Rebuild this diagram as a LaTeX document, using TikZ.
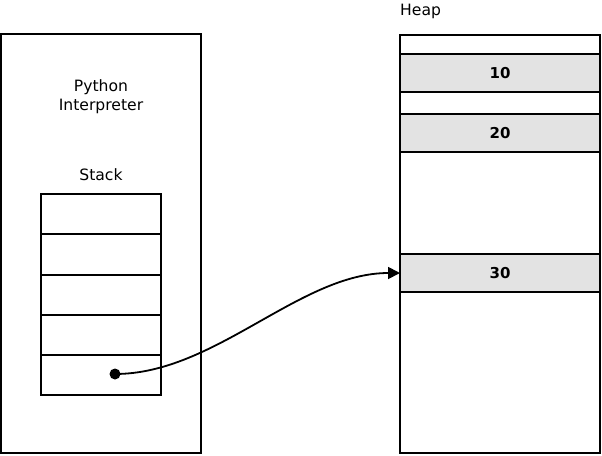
\documentclass[tikz,border=0pt]{standalone}
\usepackage{fontspec}
\setmainfont{DejaVu Sans}
\usetikzlibrary{arrows.meta}
\definecolor{cellgrey}{HTML}{E3E3E3}
\begin{document}
\begin{tikzpicture}[x=1pt,y=-1pt,
  box/.style={draw,line width=1.8pt,inner sep=0pt,outer sep=0pt,anchor=north west},
  stackrow/.style={box,minimum width=120pt,minimum height=#1},
  heapcell/.style={box,fill=cellgrey,minimum width=200pt,minimum height=38pt,font=\fontsize{15}{18}\bfseries\selectfont},
  lbl/.style={font=\fontsize{15.6}{18}\selectfont,inner sep=0pt,anchor=base},
  ptr/.style={line width=1.8pt,-{Triangle[length=12pt,width=12pt]}}
]
\useasboundingbox (0,0) rectangle (602,455);
% interpreter
\node[box,minimum width=200pt,minimum height=419pt] (interp) at (1,34) {};
\node[lbl] (python) at (101,91.5) {Python};
\node[lbl] (interpreter) at (101,110) {Interpreter};
\node[lbl] (stack) at (101,180) {Stack};
\node[stackrow=40pt] (s1) at (41,194) {};
\node[stackrow=41pt] (s2) at (41,234) {};
\node[stackrow=40pt] (s3) at (41,275) {};
\node[stackrow=40pt] (s4) at (41,315) {};
\node[stackrow=40pt] (s5) at (41,355) {};
% heap
\node[lbl,anchor=base west] (heap) at (400,15) {Heap};
\node[box,minimum width=200pt,minimum height=418pt] (heapbox) at (400,35) {};
\node[heapcell] (c10) at (400,54) {10};
\node[heapcell] (c20) at (400,114) {20};
\node[heapcell] (c30) at (400,254) {30};
% pointer
\node[circle,fill,inner sep=0pt,minimum size=11pt] (dot) at (115,374) {};
\draw[ptr] (dot.center) to[out=0,in=180,looseness=0.85] (c30.west);
\end{tikzpicture}
\end{document}
